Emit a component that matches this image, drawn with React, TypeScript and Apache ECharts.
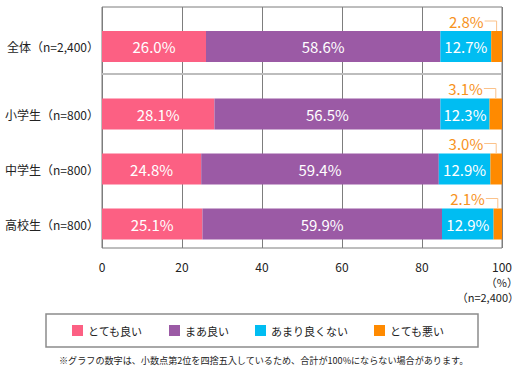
import React, { useEffect, useRef } from 'react';
import * as echarts from 'echarts';

const categories = ['全体（n=2,400）', '小学生（n=800）', '中学生（n=800）', '高校生（n=800）'];
const seriesNames = ['とても良い', 'まあ良い', 'あまり良くない', 'とても悪い'];
const veryGood = [26.0, 28.1, 24.8, 25.1];
const fairlyGood = [58.6, 56.5, 59.4, 59.9];
const notGood = [12.7, 12.3, 12.9, 12.9];
const veryBad = [2.8, 3.1, 3.0, 2.1];
const xMin = 0;
const xMax = 100;
const xInterval = 20;
const unitLabel = '（%）';
const baseLabel = '（n=2,400）';
const footnote = '※グラフの数字は、小数点第2位を四捨五入しているため、合計が100%にならない場合があります。';

const colors = ['#fc6083', '#9b5aa5', '#00bdf2', '#ff8a00'];
const FONT = "'Noto Sans CJK JP', 'Noto Sans', sans-serif";

export default function App() {
  const ref = useRef<HTMLDivElement>(null);
  useEffect(() => {
    if (!ref.current) return;
    const chart = echarts.init(ref.current, null, { renderer: 'svg' });
    const values = [veryGood, fairlyGood, notGood, veryBad];
    const groups = [[0], [1, 2, 3]];
    const series: any[] = [];
    groups.forEach((idx, g) => {
      values.forEach((vals, s) => {
        series.push({
          type: 'bar',
          name: seriesNames[s],
          xAxisIndex: g + 1,
          yAxisIndex: g + 1,
          stack: 'g' + g,
          barWidth: 31,
          data: idx.map((i) => vals[i]),
          itemStyle: { color: colors[s] },
          label: s < 3
            ? {
                show: true,
                position: 'inside',
                color: '#fff',
                fontSize: 15,
                fontFamily: FONT,
                formatter: (p: any) => Number(p.value).toFixed(1) + '%',
              }
            : { show: false },
        });
      });
    });

    const hiddenX = (gi: number) => ({
      type: 'value', gridIndex: gi, min: xMin, max: xMax, interval: xInterval, show: false,
    });
    const catY = (gi: number, data: string[]) => ({
      type: 'category',
      gridIndex: gi,
      data,
      inverse: true,
      axisLine: { show: false },
      axisTick: { show: false },
      axisLabel: { margin: 3, fontSize: 12, color: '#222', fontFamily: FONT },
    });

    chart.setOption({
      animation: false,
      textStyle: { fontFamily: FONT },
      grid: [
        { left: 102, top: 7, width: 400, height: 241, show: true, borderColor: '#7d7d7d', borderWidth: 1, containLabel: false },
        { left: 102, top: 7, width: 400, height: 79 },
        { left: 102, top: 86.5, width: 400, height: 165 },
      ],
      xAxis: [
        {
          type: 'value',
          gridIndex: 0,
          min: xMin,
          max: xMax,
          interval: xInterval,
          axisLine: { show: false },
          axisTick: { show: false },
          splitLine: { show: true, lineStyle: { color: '#7d7d7d', width: 1 } },
          axisLabel: { fontSize: 12, color: '#222', margin: 12, fontFamily: FONT },
        },
        hiddenX(1),
        hiddenX(2),
      ],
      yAxis: [
        { type: 'value', gridIndex: 0, min: 0, max: 1, show: false },
        catY(1, [categories[0]]),
        catY(2, categories.slice(1)),
      ],
      legend: {
        data: seriesNames,
        left: 72,
        top: 325,
        padding: 0,
        itemGap: 26,
        itemWidth: 11,
        itemHeight: 11,
        icon: 'rect',
        selectedMode: false,
        textStyle: { fontSize: 11, color: '#222', fontFamily: FONT },
      },
      series,
    });

    const graphics: any[] = [
      { type: 'line', shape: { x1: 102, y1: 74, x2: 502, y2: 74 }, style: { stroke: '#bdbdbd', lineWidth: 2 }, z: 5 },
      { type: 'rect', shape: { x: 46, y: 314, width: 432, height: 33 }, style: { fill: 'none', stroke: '#8c8c8c', lineWidth: 1.5 } },
      { type: 'text', x: 518, y: 282, style: { text: unitLabel, fill: '#222', font: `11px ${FONT}`, textAlign: 'right', textVerticalAlign: 'middle' } },
      { type: 'text', x: 519, y: 297, style: { text: baseLabel, fill: '#222', font: `11px ${FONT}`, textAlign: 'right', textVerticalAlign: 'middle' } },
      { type: 'text', x: 59, y: 360, style: { text: footnote, fill: '#222', font: `9.1px ${FONT}`, textAlign: 'left', textVerticalAlign: 'middle' } },
    ];
    categories.forEach((c, i) => {
      const g = i === 0 ? 0 : 1;
      const local = i === 0 ? 0 : i - 1;
      const seriesIndex = g * 4 + 3;
      const start = veryGood[i] + fairlyGood[i] + notGood[i];
      const end = Math.min(start + veryBad[i], xMax);
      const pt = chart.convertToPixel({ seriesIndex }, [(start + end) / 2, local]) as number[];
      if (!pt) return;
      const cx = pt[0];
      const top = pt[1] - 15.5;
      graphics.push({
        type: 'polyline',
        shape: { points: [[cx - 12, top - 10], [cx, top - 10], [cx, top]] },
        style: { stroke: '#fbc28a', lineWidth: 1, fill: 'none' },
        z: 10,
      });
      graphics.push({
        type: 'text',
        x: cx - 13,
        y: top - 10,
        style: {
          text: veryBad[i].toFixed(1) + '%',
          fill: '#f7931e',
          font: `15px ${FONT}`,
          textAlign: 'right',
          textVerticalAlign: 'middle',
        },
        z: 10,
      });
    });
    chart.setOption({ graphic: graphics });

    return () => chart.dispose();
  }, []);
  return <div ref={ref} style={{ position: 'fixed', left: 0, top: 0, width: 519, height: 369, background: '#fff' }} />;
}
